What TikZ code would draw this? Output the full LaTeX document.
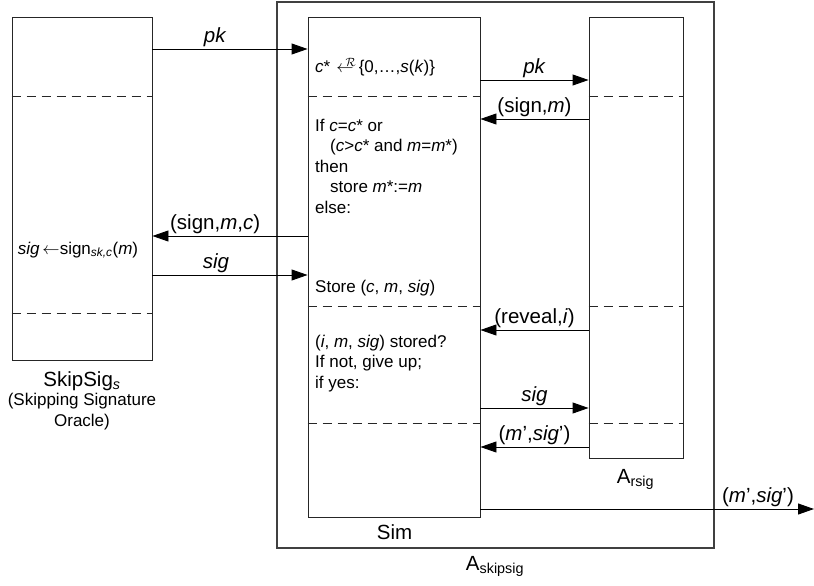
\documentclass[tikz,border=0pt]{standalone}
\usepackage{fontspec}
\setmainfont{Liberation Sans}
\usetikzlibrary{arrows.meta}
\begin{document}
\begin{tikzpicture}[x=1pt,y=-1pt,
  box/.style={draw=black!85, line width=0.9pt, inner sep=0pt, rectangle},
  outerbox/.style={draw=black!75, line width=1.2pt, inner sep=0pt, rectangle},
  divider/.style={draw=black!85, line width=0.8pt, dash pattern=on 9pt off 6pt},
  arr/.style={draw=black, line width=0.9pt, -{Triangle[length=16pt,width=11pt]}},
  lab/.style={above, inner sep=2pt, text depth=4.5pt, font=\fontsize{20.5}{24}\selectfont},
  txt/.style={inner sep=0pt, align=left, font=\fontsize{17}{20.5}\selectfont},
  big/.style={inner sep=0pt, font=\fontsize{20.5}{24}\selectfont},
  small/.style={inner sep=0pt, align=center, font=\fontsize{17}{20.5}\selectfont}]
\useasboundingbox (0,0) rectangle (814,586);

% boxes
\node[outerbox, minimum width=437pt, minimum height=546pt] (outer) at (495.5,275) {};
\node[box, minimum width=140pt, minimum height=343pt] (ss) at (82,188.5) {};
\node[box, minimum width=172pt, minimum height=500pt] (sim) at (394,267) {};
\node[box, minimum width=94pt, minimum height=441pt] (rs) at (636,237.5) {};

% dividers
\draw[divider] (ss.west |- 0,96) -- (ss.east |- 0,96);
\draw[divider] (ss.west |- 0,313) -- (ss.east |- 0,313);
\draw[divider] (sim.west |- 0,96) -- (sim.east |- 0,96);
\draw[divider] (sim.west |- 0,306) -- (sim.east |- 0,306);
\draw[divider] (sim.west |- 0,423) -- (sim.east |- 0,423);
\draw[divider] (rs.west |- 0,96) -- (rs.east |- 0,96);
\draw[divider] (rs.west |- 0,306) -- (rs.east |- 0,306);
\draw[divider] (rs.west |- 0,423) -- (rs.east |- 0,423);

% arrows between SkipSig and Sim
\draw[arr] (ss.east |- 0,49) -- node[lab, pos=0.404] {\textit{pk}} (sim.west |- 0,49);
\draw[arr] (sim.west |- 0,236) -- node[lab, pos=0.596] {(sign,\textit{m},\textit{c})} (ss.east |- 0,236);
\draw[arr] (ss.east |- 0,275) -- node[lab, pos=0.41] {\textit{sig}} (sim.west |- 0,275);

% arrows between Sim and A_rsig
\draw[arr] (sim.east |- 0,80) -- node[lab] {\textit{pk}} (rs.west |- 0,80);
\draw[arr] (rs.west |- 0,119) -- node[lab] {(sign,\textit{m})} (sim.east |- 0,119);
\draw[arr] (rs.west |- 0,330) -- node[lab] {(reveal,\textit{i})} (sim.east |- 0,330);
\draw[arr] (sim.east |- 0,408) -- node[lab] {\textit{sig}} (rs.west |- 0,408);
\draw[arr] (rs.west |- 0,447) -- node[lab] {(\textit{m}’,\textit{sig}’)} (sim.east |- 0,447);

% output
\coordinate (out) at (814,509);
\draw[arr] (sim.east |- out) -- node[lab, pos=0.832] {(\textit{m}’,\textit{sig}’)} (out);

% texts inside Sim
\node[txt, anchor=base west] (t1) at (315,73)
  {\textit{c}*\hspace{6pt}$\leftarrow$\hspace{-8pt}\raisebox{6pt}{$\scriptstyle\mathcal{R}$}\hspace{3pt}\{0,…,\textit{s}(\textit{k})\}};
\node[txt, anchor=base west] (t2) at (315,213)
  {If \textit{c}=\textit{c}* or\\
   \hspace*{15pt}(\textit{c}>\textit{c}* and \textit{m}=\textit{m}*)\\
   then\\
   \hspace*{15pt}store \textit{m}*:=\textit{m}\\
   else:};
\node[txt, anchor=base west] (t3) at (315,292) {Store (\textit{c}, \textit{m}, \textit{sig})};
\node[txt, anchor=base west] (t4) at (315,388)
  {(\textit{i}, \textit{m}, \textit{sig}) stored?\\
   If not, give up;\\
   if yes:};

% text inside SkipSig
\node[txt, anchor=base] (t5) at (78,254)
  {\textit{sig}\,$\leftarrow$sign\textsubscript{\textit{sk,c}}(\textit{m})};

% labels
\node[big, anchor=base] (sslab) at (82,386) {SkipSig\textsubscript{\textit{s}}};
\node[small, anchor=base] (ssdesc) at (82,426) {(Skipping Signature\\Oracle)};
\node[big, anchor=base] (simlab) at (394.5,539) {Sim};
\node[big, anchor=base] (rslab) at (635.5,483) {A\textsubscript{rsig}};
\node[big, anchor=base] (outlab) at (495,570) {A\textsubscript{skipsig}};
\end{tikzpicture}
\end{document}
